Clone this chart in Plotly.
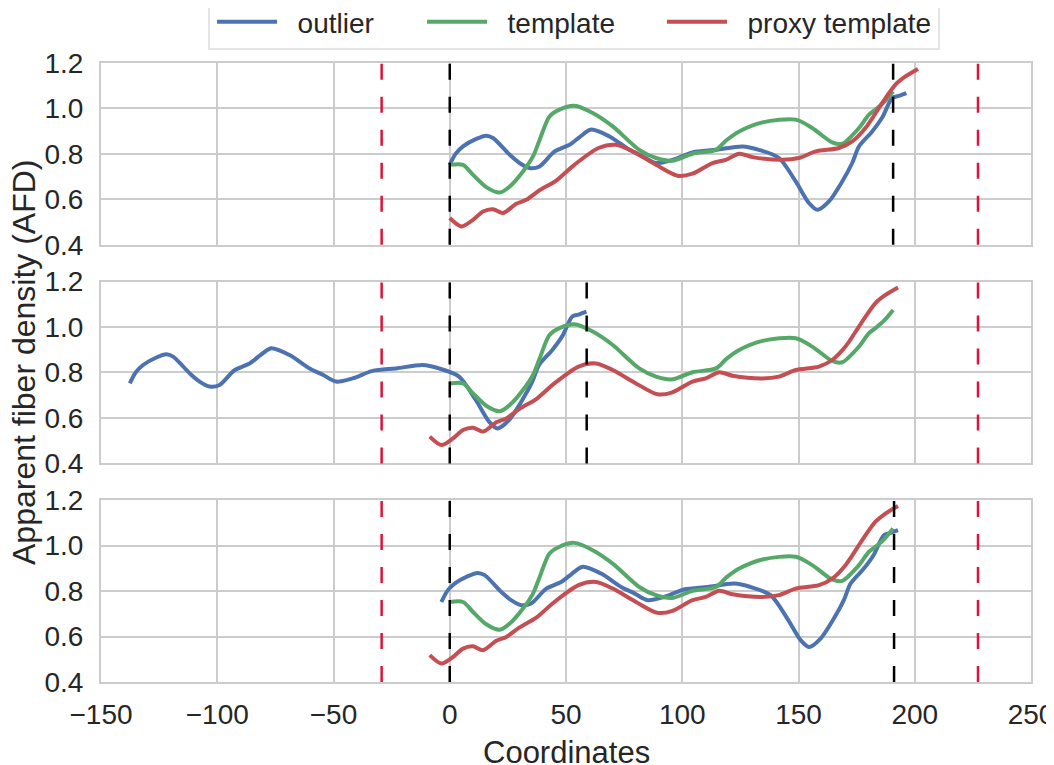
import plotly.graph_objects as go
from plotly.subplots import make_subplots

# curves as seen in the top panel (unshifted)
outlier_x = [0, 2.5, 5.7, 11.4, 15.7, 18.6, 25.8, 30, 34.3, 38.6, 45, 51.5, 56, 60.8, 68.7, 77.3, 83,
             88.7, 95.8, 104.4, 114.5, 125.9, 133, 141.6, 148.8, 154.5, 158.1, 163.1, 168.8, 173.1,
             176, 181.7, 186, 190.3, 193, 196.4]
outlier_y = [0.752, 0.80, 0.833, 0.866, 0.880, 0.870, 0.796, 0.76, 0.738, 0.745, 0.81, 0.840, 0.875,
             0.907, 0.877, 0.818, 0.79, 0.760, 0.774, 0.807, 0.818, 0.833, 0.818, 0.782, 0.679, 0.584,
             0.554, 0.591, 0.679, 0.76, 0.833, 0.899, 0.96, 1.046, 1.055, 1.068]

template_x = [0, 5.7, 10, 15.7, 21.5, 25.8, 31.5, 35.8, 38.6, 42.9, 47.2, 53.6, 61.5, 70.1, 81.5, 88.7,
              95.8, 104.4, 114.5, 119, 124.5, 134.5, 148.8, 155.9, 164.5, 168.8, 176, 180.3, 183.1,
              187, 190.7]
template_y = [0.752, 0.752, 0.708, 0.654, 0.630, 0.657, 0.723, 0.789, 0.86, 0.965, 0.995, 1.012, 0.980,
              0.921, 0.818, 0.782, 0.770, 0.801, 0.818, 0.86, 0.899, 0.939, 0.951, 0.914, 0.851, 0.845,
              0.914, 0.973, 0.995, 1.03, 1.075]

proxy_x = [0, 5, 10, 14.3, 18.6, 22.9, 28.6, 32.9, 38.6, 45.8, 53.6, 64, 71.5, 78.7, 88.7, 98, 104.4,
           113, 118.7, 124.5, 130.2, 143, 150.2, 157.4, 167.4, 173.1, 178.8, 186, 191.7, 196, 201.4]
proxy_y = [0.518, 0.481, 0.510, 0.547, 0.557, 0.540, 0.581, 0.598, 0.64, 0.683, 0.752, 0.826, 0.840,
           0.811, 0.752, 0.704, 0.713, 0.760, 0.774, 0.801, 0.786, 0.774, 0.782, 0.811, 0.826, 0.855,
           0.914, 1.024, 1.105, 1.141, 1.174]

# per-panel alignment offsets
outlier_shift = [0, -137.6, -3.6]
proxy_shift = [0, -8.6, -8.6]
template_shift = [0, 0, 0]

# vertical markers
black_marks = [[0, 190.7], [0, 58.9], [0, 191.1]]
red_marks = [-29.3, 227.2]

blue = "#4C72B0"
green = "#55A868"
red = "#C44E52"
grid = "#CCCCCC"
txt = "#262626"
font = "Arial, Liberation Sans, sans-serif"
pad = "\u00a0\u00a0"  # matplotlib leaves a wider gap between handle and label

fig = make_subplots(rows=3, cols=1, shared_xaxes=True, vertical_spacing=0.0593)

spline = dict(width=4, shape="spline", smoothing=0.8)
for i in range(3):
    r = i + 1
    first = i == 0
    fig.add_trace(go.Scatter(x=[v + outlier_shift[i] for v in outlier_x], y=outlier_y, mode="lines",
                             name=pad + "outlier", legend="legend", showlegend=first,
                             line=dict(color=blue, **spline)), row=r, col=1)
    fig.add_trace(go.Scatter(x=[v + template_shift[i] for v in template_x], y=template_y, mode="lines",
                             name=pad + "template", legend="legend2", showlegend=first,
                             line=dict(color=green, **spline)), row=r, col=1)
    fig.add_trace(go.Scatter(x=[v + proxy_shift[i] for v in proxy_x], y=proxy_y, mode="lines",
                             name=pad + "proxy template", legend="legend3", showlegend=first,
                             line=dict(color=red, **spline)), row=r, col=1)
    for xv in black_marks[i]:
        fig.add_vline(x=xv, line=dict(color="black", width=2.5, dash="16px,17px"), row=r, col=1)
    for xv in red_marks:
        fig.add_vline(x=xv, line=dict(color="crimson", width=2.5, dash="16px,17px"), row=r, col=1)

fig.update_xaxes(range=[-150, 250], dtick=50, showgrid=True, gridcolor=grid, gridwidth=2,
                 showline=True, linecolor=grid, linewidth=2, mirror=True, zeroline=False,
                 automargin=False, ticklabelstandoff=6, ticklabeloverflow="allow",
                 tickfont=dict(size=28, color=txt, family=font))
fig.update_yaxes(range=[0.4, 1.2], tickvals=[0.4, 0.6, 0.8, 1.0, 1.2], tickformat=".1f",
                 showgrid=True, gridcolor=grid, gridwidth=2, showline=True, linecolor=grid, linewidth=2,
                 mirror=True, zeroline=False, ticklabelstandoff=10, automargin=False,
                 ticklabeloverflow="allow",
                 tickfont=dict(size=28, color=txt, family=font))

fig.add_annotation(text="Apparent fiber density (AFD)", textangle=-90, xref="paper", yref="paper",
                   x=-0.0828, y=0.517, xanchor="center", yanchor="middle", showarrow=False,
                   font=dict(size=32, color=txt, family=font))
fig.add_annotation(text="Coordinates", xref="paper", yref="paper", x=0.5, y=-0.1147,
                   xanchor="center", yanchor="middle", showarrow=False,
                   font=dict(size=31, color=txt, family=font))

# legend frame
fig.add_shape(type="rect", xref="paper", yref="paper", x0=0.1161, x1=0.9011, y0=1.0226, y1=1.1002,
              line=dict(color="#DDDDDD", width=1.5), fillcolor="white", layer="above")

leg = dict(orientation="h", yref="paper", y=1.0662, xanchor="left", yanchor="middle",
           borderwidth=0, bgcolor="rgba(0,0,0,0)", itemwidth=60,
           font=dict(size=28, color=txt, family=font))
fig.update_layout(
    width=1054, height=757,
    margin=dict(l=93, r=31, t=55, b=83, autoexpand=False),
    paper_bgcolor="white", plot_bgcolor="white",
    font=dict(family=font, color=txt),
    legend=dict(x=0.1194, **leg),
    legend2=dict(x=0.3452, **leg),
    legend3=dict(x=0.6032, **leg),
)

fig.write_html("out.html")
